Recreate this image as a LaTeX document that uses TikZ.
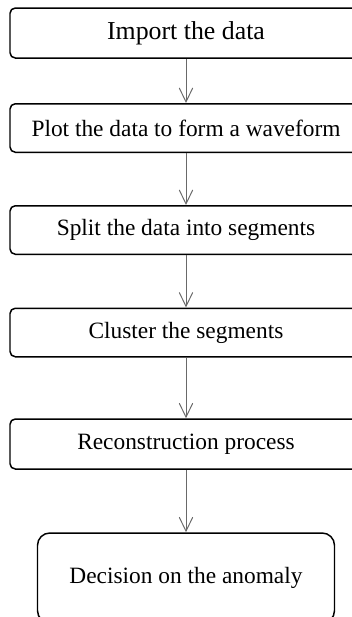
\documentclass[tikz,border=0pt]{standalone}
\usepackage{fontspec}
\setmainfont{Liberation Serif}
\usetikzlibrary{arrows.meta}
\definecolor{flowgray}{RGB}{105, 105, 105}

\begin{document}
\begin{tikzpicture}[
    stage/.style={draw, rounded corners=3pt, line width=0.85pt,
        minimum width=7.04cm, minimum height=0.97cm, inner sep=0pt,
        font=\fontsize{13.3}{16}\selectfont},
    finalstage/.style={draw, rounded corners=7pt, line width=0.85pt,
        minimum width=5.94cm, minimum height=1.8cm, inner sep=0pt,
        font=\fontsize{13.3}{16}\selectfont},
    flow/.style={->, flowgray, line width=0.55pt},
    >={Straight Barb[length=0.28cm, width=0.27cm]}
]
    \useasboundingbox (0,0) rectangle (7.04,-12.34);
    \clip (0,0) rectangle (7.04,-12.34);

    \node[stage, minimum height=1.0cm, font=\fontsize{14.7}{17}\selectfont]
        (import) at (3.72,-0.66) {Import the data};
    \node[stage] (plot) at (3.72,-2.56) {Plot the data to form a waveform};
    \node[stage] (split) at (3.72,-4.6) {Split the data into segments};
    \node[stage] (cluster) at (3.72,-6.65) {Cluster the segments};
    \node[stage, minimum height=1.0cm] (recon) at (3.72,-8.88) {Reconstruction process};
    \node[finalstage] (decide) at (3.72,-11.56) {Decision on the anomaly};

    \draw[flow] (import) -- (plot);
    \draw[flow] (plot) -- (split);
    \draw[flow] (split) -- (cluster);
    \draw[flow] (cluster) -- (recon);
    \draw[flow] (recon) -- (decide);
\end{tikzpicture}
\end{document}
